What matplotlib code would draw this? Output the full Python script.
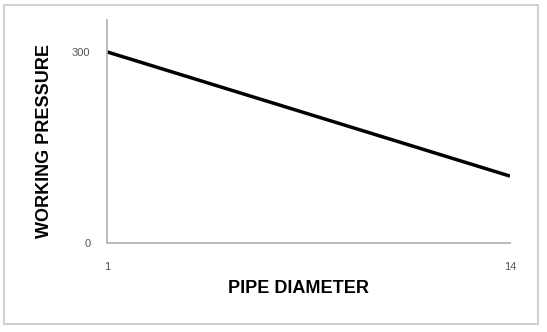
import matplotlib

matplotlib.use("Agg", force=True)
import matplotlib.pyplot as plt
from matplotlib.patches import Rectangle

# data
pipe_diameter = [1, 14]
working_pressure = [300, 105]
x_ticks = [1, 14]
y_ticks = [0, 300]

plt.rcParams["font.family"] = ["Liberation Sans", "DejaVu Sans"]

fig = plt.figure(figsize=(5.47, 3.32), dpi=100)
fig.patches.append(
    Rectangle((4 / 547, 1 - 324 / 332), 534 / 547, 319 / 332,
              transform=fig.transFigure, fill=False, edgecolor="#c8c8c8", linewidth=1.2)
)
ax = fig.add_axes([107 / 547, 1 - 243 / 332, 403 / 547, 223 / 332])

ax.plot(pipe_diameter, working_pressure, color="black", linewidth=2.5, solid_capstyle="butt")
ax.set_xlim(1, 14)
ax.set_ylim(0, 350)
ax.set_xticks(x_ticks)
ax.set_yticks(y_ticks)
ax.tick_params(axis="both", length=0, labelsize=8, labelcolor="#555555")
ax.tick_params(axis="x", pad=14)
ax.tick_params(axis="y", pad=12)
for side in ("top", "right"):
    ax.spines[side].set_visible(False)
for side in ("left", "bottom"):
    ax.spines[side].set_color("#b0b0b0")
    ax.spines[side].set_linewidth(1.2)

ax.set_xlabel("PIPE DIAMETER", fontsize=13, fontweight="bold")
ax.set_ylabel("WORKING PRESSURE", fontsize=13, fontweight="bold")
ax.xaxis.set_label_coords(0.475, -0.166)
ax.yaxis.set_label_coords(-0.134, 0.457)

fig.savefig("out.png", dpi=100)
